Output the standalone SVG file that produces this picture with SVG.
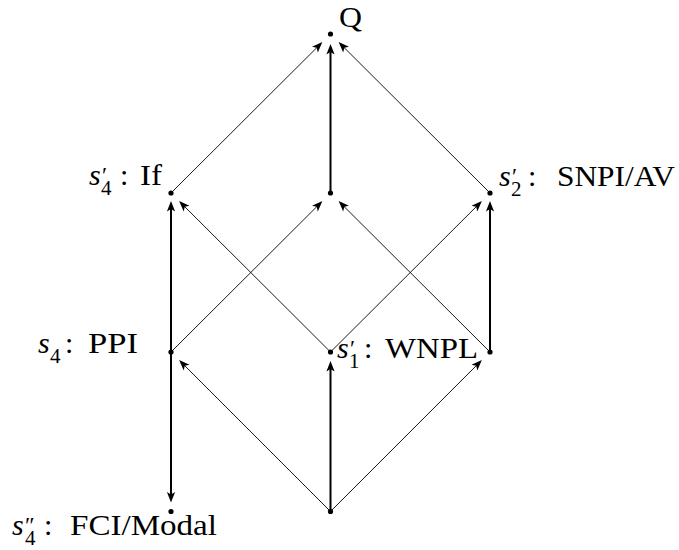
<svg xmlns="http://www.w3.org/2000/svg" width="679" height="550" viewBox="0 0 679 550">
  <style>
    text { font-family: "Liberation Serif", "Times New Roman", serif; font-size: 30px; fill: #000; }
    .it { font-style: italic; }
    .sub { font-size: 21px; font-style: normal; }
    .pr { font-size: 23px; font-style: normal; }
    .dot { fill: #000; }
    .thin { stroke: #000; stroke-width: 0.9; fill: none; }
    .thick { stroke: #000; stroke-width: 2; fill: none; }
  </style>
  <defs>
    <marker id="ah" viewBox="-11 -5 11 10" refX="-5" refY="0" markerWidth="11" markerHeight="10" markerUnits="userSpaceOnUse" orient="auto">
      <path d="M0,0 L-10.5,-4.1 L-8,0 L-10.5,4.1 Z" fill="#000"/>
    </marker>
  </defs>

  <!-- connectors -->
  <g id="edges">
    <line class="thin" x1="171" y1="193" x2="318.82" y2="45.65" marker-end="url(#ah)"/>
    <line class="thick" x1="330.5" y1="193" x2="330.5" y2="49" marker-end="url(#ah)"/>
    <line class="thin" x1="490" y1="193" x2="342.18" y2="45.65" marker-end="url(#ah)"/>

    <line class="thick" x1="171" y1="352" x2="171" y2="206" marker-end="url(#ah)"/>
    <line class="thin" x1="171" y1="352" x2="318.82" y2="204.65" marker-end="url(#ah)"/>
    <line class="thin" x1="330.5" y1="352" x2="182.68" y2="204.65" marker-end="url(#ah)"/>
    <line class="thin" x1="330.5" y1="352" x2="478.32" y2="204.65" marker-end="url(#ah)"/>
    <line class="thin" x1="490" y1="352" x2="342.18" y2="204.65" marker-end="url(#ah)"/>
    <line class="thick" x1="490" y1="352" x2="490" y2="206" marker-end="url(#ah)"/>

    <line class="thick" x1="171" y1="352" x2="171" y2="497.5" marker-end="url(#ah)"/>
    <line class="thin" x1="330.5" y1="511.5" x2="182.68" y2="363.65" marker-end="url(#ah)"/>
    <line class="thick" x1="330.5" y1="511.5" x2="330.5" y2="366" marker-end="url(#ah)"/>
    <line class="thin" x1="330.5" y1="511.5" x2="478.32" y2="363.65" marker-end="url(#ah)"/>
  </g>

  <!-- top element -->
  <g id="q">
    <circle class="dot" cx="330.5" cy="34" r="2.6"/>
    <text x="339" y="27" textLength="23" lengthAdjust="spacingAndGlyphs">Q</text>
  </g>

  <!-- s'4: If -->
  <g id="if">
    <circle class="dot" cx="171" cy="193" r="2.6"/>
    <text y="185"><tspan class="it" x="89">s</tspan><tspan class="pr" x="102" y="183">′</tspan><tspan class="sub" x="101" y="195">4</tspan><tspan x="120" y="185">:</tspan></text>
    <text x="140" y="185" textLength="22" lengthAdjust="spacingAndGlyphs">If</text>
  </g>

  <!-- middle element -->
  <g id="mid">
    <circle class="dot" cx="330.5" cy="193" r="2.6"/>
  </g>

  <!-- s'2: SNPI/AV -->
  <g id="snpi">
    <circle class="dot" cx="490" cy="193" r="2.6"/>
    <text y="186"><tspan class="it" x="499">s</tspan><tspan class="pr" x="512" y="184">′</tspan><tspan class="sub" x="511" y="196">2</tspan><tspan x="528" y="186">:</tspan></text>
    <text x="557" y="186" textLength="118" lengthAdjust="spacingAndGlyphs">SNPI/AV</text>
  </g>

  <!-- s4: PPI -->
  <g id="ppi">
    <circle class="dot" cx="171" cy="352" r="2.6"/>
    <text y="353"><tspan class="it" x="38">s</tspan><tspan class="sub" x="50" y="363">4</tspan><tspan x="65" y="353">:</tspan></text>
    <text x="88" y="353" textLength="50" lengthAdjust="spacingAndGlyphs">PPI</text>
  </g>

  <!-- s'1: WNPL -->
  <g id="wnpl">
    <circle class="dot" cx="330.5" cy="352" r="2.6"/>
    <text y="358"><tspan class="it" x="337">s</tspan><tspan class="pr" x="350" y="356">′</tspan><tspan class="sub" x="349" y="368">1</tspan><tspan x="364" y="358">:</tspan></text>
    <text x="385" y="358" textLength="93" lengthAdjust="spacingAndGlyphs">WNPL</text>
  </g>

  <!-- right middle element -->
  <g id="right">
    <circle class="dot" cx="490" cy="352" r="2.6"/>
  </g>

  <!-- s''4: FCI/Modal -->
  <g id="fci">
    <circle class="dot" cx="171" cy="511.5" r="2.6"/>
    <text y="535"><tspan class="it" x="12">s</tspan><tspan class="pr" x="25" y="533">″</tspan><tspan class="sub" x="25" y="545">4</tspan><tspan x="44" y="535">:</tspan></text>
    <text x="70" y="535" textLength="147" lengthAdjust="spacingAndGlyphs">FCI/Modal</text>
  </g>

  <!-- bottom element -->
  <g id="bottom">
    <circle class="dot" cx="330.5" cy="511.5" r="2.6"/>
  </g>
</svg>
